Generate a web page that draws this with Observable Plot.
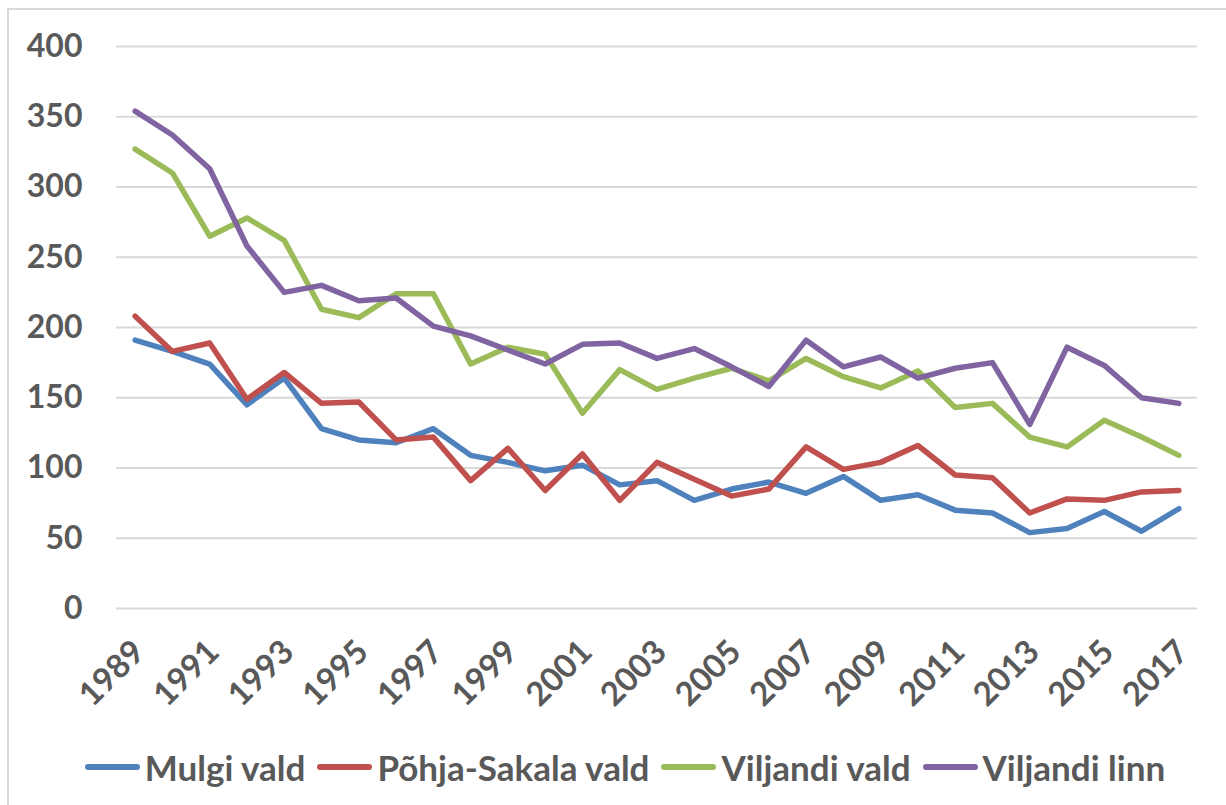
<!DOCTYPE html>
<html>
<head>
<meta charset="utf-8">
<script src="https://cdn.jsdelivr.net/npm/d3@7"></script>
<script src="https://cdn.jsdelivr.net/npm/@observablehq/plot@0.6"></script>
<style>
  html, body { margin: 0; padding: 0; background: #fff; }
  body { width: 1226px; height: 805px; overflow: hidden; position: relative; font-family: Lato, "Open Sans", sans-serif; }
  #frame { position: absolute; left: 7px; top: 8px; right: -10px; bottom: -10px; border-left: 2px solid #d9d9d9; border-top: 2px solid #d9d9d9; pointer-events: none; }
  #chart { position: absolute; left: 0; top: 0; }
  #legend { position: absolute; left: 0; top: 740px; width: 1226px; box-sizing: border-box; padding-left: 24px; height: 54px; display: flex; align-items: center; justify-content: center; font-weight: 700; font-size: 35px; color: #595959; }
  .item { display: flex; align-items: center; margin: 0 6px; }
  .sw { width: 55px; height: 5.5px; border-radius: 3px; margin-right: 5px; }
</style>
</head>
<body>
<div id="chart"></div>
<div id="legend"></div>
<div id="frame"></div>
<script>
const years = [1989,1990,1991,1992,1993,1994,1995,1996,1997,1998,1999,2000,2001,2002,2003,2004,2005,2006,2007,2008,2009,2010,2011,2012,2013,2014,2015,2016,2017];
const seriesNames = ["Mulgi vald", "Põhja-Sakala vald", "Viljandi vald", "Viljandi linn"];
const seriesColors = ["#4f81bd", "#c0504d", "#9bbb59", "#8064a2"];
const mulgi = [191,183,174,145,164,128,120,118,128,109,104,98,102,88,91,77,85,90,82,94,77,81,70,68,54,57,69,55,71];
const pohjaSakala = [208,183,189,149,168,146,147,120,122,91,114,84,110,77,104,92,80,85,115,99,104,116,95,93,68,78,77,83,84];
const viljandiVald = [327,310,265,278,262,213,207,224,224,174,186,181,139,170,156,164,171,162,178,165,157,169,143,146,122,115,134,122,109];
const viljandiLinn = [354,337,313,258,225,230,219,221,201,194,184,174,188,189,178,185,172,158,191,172,179,164,171,175,131,186,173,150,146];
const yTicks = [0,50,100,150,200,250,300,350,400];
const xTicks = [1989,1991,1993,1995,1997,1999,2001,2003,2005,2007,2009,2011,2013,2015,2017];

const allSeries = [mulgi, pohjaSakala, viljandiVald, viljandiLinn];
const rows = [];
allSeries.forEach((vals, si) => {
  vals.forEach((v, i) => rows.push({year: years[i], value: v, series: seriesNames[si]}));
});

const plot = Plot.plot({
  width: 1226,
  height: 740,
  marginLeft: 116,
  marginRight: 29,
  marginTop: 46,
  marginBottom: 132,
  style: {fontFamily: "Lato, 'Open Sans', sans-serif", fontWeight: 700, fontSize: "30px", color: "#595959", background: "transparent"},
  x: {domain: [1988.5, 2017.5]},
  y: {domain: [0, 400]},
  color: {domain: seriesNames, range: seriesColors},
  marks: [
    Plot.gridY(yTicks, {stroke: "#d9d9d9", strokeOpacity: 1, strokeWidth: 2}),
    Plot.axisY(yTicks, {tickSize: 0, tickPadding: 34, fontSize: 32, label: null}),
    Plot.axisX(xTicks, {tickSize: 0, tickRotate: -45, tickPadding: 10, fontSize: 33, tickFormat: d => String(d), label: null, dx: 4, dy: 28}),
    Plot.line(rows, {x: "year", y: "value", z: "series", stroke: "series", strokeWidth: 5.5, strokeLinejoin: "round", strokeLinecap: "round"})
  ]
});
document.getElementById("chart").appendChild(plot);

const legend = document.getElementById("legend");
seriesNames.forEach((name, i) => {
  const item = document.createElement("div");
  item.className = "item";
  const sw = document.createElement("span");
  sw.className = "sw";
  sw.style.background = seriesColors[i];
  const label = document.createElement("span");
  label.textContent = name;
  item.appendChild(sw);
  item.appendChild(label);
  legend.appendChild(item);
});
</script>
</body>
</html>
